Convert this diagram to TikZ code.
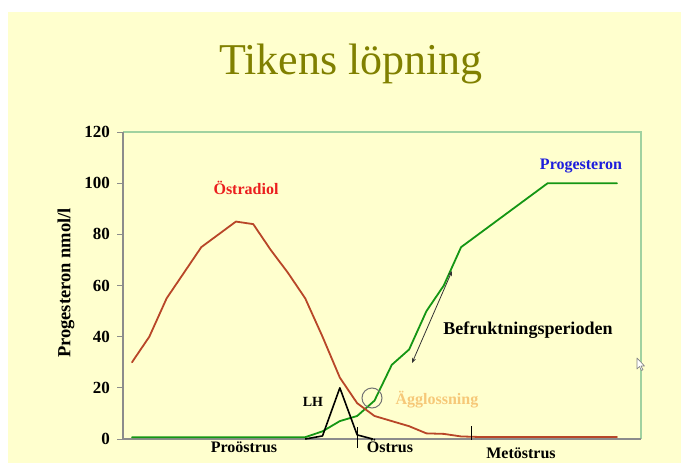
\documentclass[tikz,border=0pt]{standalone}
\usepackage{fontspec}
\setmainfont{Liberation Serif}
\usetikzlibrary{arrows.meta}
\definecolor{bgyellow}{RGB}{255,255,206}
\definecolor{titleolive}{RGB}{128,128,0}
\definecolor{estcol}{RGB}{184,70,40}
\definecolor{progcol}{RGB}{20,150,20}
\definecolor{axisgray}{RGB}{140,140,140}
\definecolor{framegreen}{RGB}{160,210,160}
\definecolor{labred}{RGB}{235,30,30}
\definecolor{labblue}{RGB}{30,30,220}
\definecolor{labor}{RGB}{246,200,120}
\tikzset{
  lab/.style={font=\bfseries\fontsize{16}{18}\selectfont, inner sep=0pt, anchor=base},
  ticklab/.style={font=\bfseries\fontsize{17}{19}\selectfont, inner sep=0pt, anchor=east},
  curve/.style={line width=1.8pt, line join=round, line cap=round},
}
\begin{document}
\begin{tikzpicture}[x=1pt,y=-1pt]
\useasboundingbox (0,0) rectangle (681,463);
\fill[white] (0,0) rectangle (681,463);
\fill[bgyellow] (8,12) rectangle (681,463);
% title
\node[font=\fontsize{44}{48}\selectfont, text=titleolive, inner sep=0pt, anchor=base] (title) at (351,74) {Tikens löpning};
% frame
\draw[framegreen, line width=1.2pt] (123,132) -- (641,132) -- (641,439);
\draw[axisgray, line width=1.2pt] (123,132) -- (123,439) -- (641,439);
\foreach \v in {0,20,...,120} {
  \pgfmathsetmacro\yy{439-2.558*\v}
  \draw[axisgray, line width=1pt] (117,\yy) -- (123,\yy);
  \node[ticklab] (t\v) at (110,\yy) {\v};
}
\node[font=\bfseries\fontsize{18.5}{20}\selectfont, rotate=90, inner sep=0pt] (ytitle) at (66,283) {Progesteron nmol/l};
% data
\begin{scope}[shift={(132,439)}, x=17.32pt, y=2.558pt]
\draw[curve, progcol] (0,0.7) -- (10,0.7) -- (11,3) -- (12,7) -- (13,9) -- (14,15) -- (15,29) -- (16,35) -- (17,50) -- (18,60) -- (19,75) -- (24,100) -- (28,100);
\draw[curve, estcol] (0,30) -- (1,40) -- (2,55) -- (3,65) -- (4,75) -- (5,80) -- (6,85) -- (7,84) -- (8,74) -- (9,65) -- (10,55) -- (11,40) -- (12,24) -- (13,14) -- (14,9) -- (15,7) -- (16,5) -- (17,2.2) -- (18,2) -- (19,1) -- (20,0.8) -- (28,0.8);
\draw[line width=1.6pt, black, line join=round] (10,0) -- (11,1.2) -- (12,20) -- (13,1.6) -- (13.9,0);
\end{scope}
% stage markers
\draw[line width=1.6pt] (357.5,427) -- (357.5,448);
\draw[line width=1.6pt] (471.5,426) -- (471.5,440);
% ovulation circle
\draw[gray!90!black, line width=1pt] (372,398) circle (10);
% fertile period arrow
\coordinate (a1) at (412,363);
\coordinate (a2) at (452,271);
\draw[line width=0.8pt, black!80, {Stealth[length=5pt,width=4pt]}-{Stealth[length=5pt,width=4pt]}] (a1) -- (a2);
% labels
\node[lab, text=labred] (ostr) at (246,194) {Östradiol};
\node[lab, text=labblue] (prog) at (581,169) {Progesteron};
\node[lab, font=\bfseries\fontsize{18}{20}\selectfont] (bef) at (528,334) {Befruktningsperioden};
\node[lab, text=labor] (agg) at (437,404) {Ägglossning};
\node[lab, font=\bfseries\fontsize{14}{16}\selectfont] (lh) at (313,406) {LH};
\node[lab] (pro) at (244,452) {Proöstrus};
\node[lab] (ost) at (390,452) {Östrus};
\node[lab] (met) at (521,458) {Metöstrus};
% mouse cursor
\draw[fill=white, draw=gray, line width=0.6pt, line join=round] (637,358) -- (637,369) -- (639.5,366.5) -- (641.5,370.5) -- (643,369.8) -- (641,366) -- (644.5,366) -- cycle;
\end{tikzpicture}
\end{document}
